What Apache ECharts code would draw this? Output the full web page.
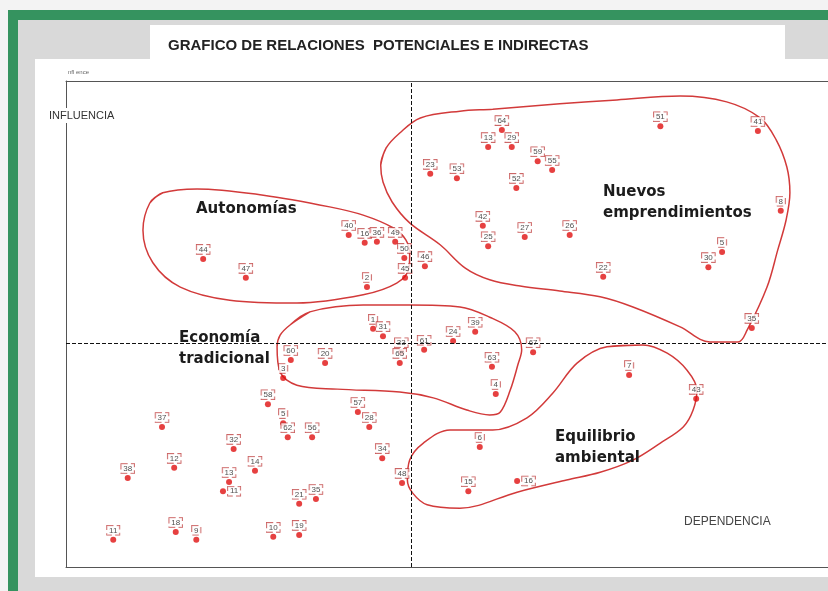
<!DOCTYPE html>
<html>
<head>
<meta charset="utf-8">
<script src="https://cdn.jsdelivr.net/npm/echarts@6/dist/echarts.min.js"></script>
<style>
html, body { margin: 0; padding: 0; width: 828px; height: 591px; overflow: hidden; background: #f3f3f3; }
.verde { position: absolute; left: 8px; top: 10px; right: 0; bottom: 0; background: #35935f; }
.gris { position: absolute; left: 18px; top: 20px; right: 0; bottom: 0; background: #d9d9d9; }
.caja-titulo { position: absolute; left: 150px; top: 25px; width: 635px; height: 34px; background: #fff; }
.caja-grafico { position: absolute; left: 35px; top: 59px; right: 0; height: 518px; background: #fff; }
#chart { position: absolute; left: 0; top: 0; width: 828px; height: 591px; }
</style>
</head>
<body>
<div class="verde"></div>
<div class="gris"></div>
<div class="caja-titulo"></div>
<div class="caja-grafico"></div>
<div id="chart"></div>
<script>
// variables (etiqueta, dependencia, influencia)
var etiquetas = ["64", "13", "29", "23", "53", "59", "55", "52", "42", "25", "27", "26", "46", "22",
  "51", "41", "8", "5", "30", "35",
  "44", "47", "40", "16", "36", "49", "50", "45", "2",
  "1", "31", "33", "65", "61", "24", "39", "67", "60", "20", "3", "63", "4",
  "7", "43", "6", "15", "16", "48",
  "58", "5", "62", "56", "57", "28", "34", "37", "32", "12", "38", "14", "13", "11", "21", "35",
  "11", "18", "9", "10", "19"];
var dependencia = [57.2, 55.4, 58.5, 47.8, 51.3, 61.9, 63.8, 59.1, 54.7, 55.4, 60.2, 66.1, 47.1, 70.5,
  78.0, 90.8, 93.8, 86.1, 84.3, 90.0,
  18.0, 23.6, 37.1, 39.2, 40.8, 43.2, 44.4, 44.5, 39.5,
  40.3, 41.6, 44.0, 43.8, 47.0, 50.8, 53.7, 61.3, 29.5, 34.0, 28.5, 55.9, 56.4,
  73.9, 82.7, 54.3, 52.8, 59.2, 44.1,
  26.5, 28.5, 29.1, 32.3, 38.3, 39.8, 41.5, 12.6, 22.0, 14.2, 8.1, 24.8, 21.4, 20.6, 30.6, 32.8,
  6.2, 14.4, 17.1, 27.2, 30.6];
var influencia = [89.9, 86.4, 86.4, 80.9, 80.0, 83.5, 81.7, 78.0, 70.2, 66.0, 67.9, 68.3, 61.9, 59.7,
  90.7, 89.7, 73.3, 64.8, 61.7, 49.2,
  63.4, 59.5, 68.3, 66.7, 66.9, 66.9, 63.6, 59.5, 57.6,
  49.0, 47.5, 44.2, 42.0, 44.7, 46.5, 48.4, 44.2, 42.6, 42.0, 38.9, 41.2, 35.6,
  39.5, 34.6, 24.7, 15.6, 17.7, 17.3,
  33.5, 29.6, 26.7, 26.7, 31.9, 28.8, 22.4, 28.8, 24.3, 20.4, 18.3, 19.8, 17.5, 15.6, 13.0, 14.0,
  5.6, 7.2, 5.6, 6.2, 6.6];
// etiquetas que van a la derecha del punto
var etiquetaDerecha = [46, 61];

// contornos de los grupos
var autonomias = [[11.0, 74.9], [12.7, 77.0], [17.2, 77.8], [25.9, 76.5], [34.6, 74.1], [39.0, 72.4],
  [42.9, 69.8], [44.6, 67.3], [45.1, 64.2], [45.0, 61.5], [43.4, 58.4], [39.0, 56.0], [30.3, 54.3],
  [21.5, 54.9], [15.0, 57.6], [11.4, 62.6], [10.1, 69.3]];
var nuevos = [[41.3, 82.7], [42.0, 86.2], [43.8, 89.3], [46.5, 92.4], [51.7, 93.8], [56.0, 94.2],
  [64.8, 95.3], [72.3, 96.1], [80.6, 96.9], [86.7, 95.7], [91.1, 92.4], [93.2, 87.9], [94.6, 82.3],
  [95.0, 77.0], [94.5, 71.4], [93.4, 65.2], [92.0, 57.6], [89.4, 48.8], [88.2, 46.3], [84.5, 46.3],
  [80.6, 49.4], [74.4, 53.5], [70.1, 55.6], [64.8, 56.8], [59.6, 57.8], [55.6, 59.1], [52.4, 61.5],
  [49.1, 66.3], [45.1, 70.8], [42.8, 75.1], [41.6, 79.2]];
var economia = [[29.4, 49.8], [32.0, 52.5], [39.0, 53.9], [45.1, 53.9], [51.7, 53.5], [55.6, 51.4],
  [58.9, 48.4], [59.8, 44.7], [59.3, 41.6], [58.3, 36.4], [57.0, 31.9], [55.6, 31.3], [52.6, 32.3],
  [48.2, 34.8], [43.8, 36.0], [35.6, 36.6], [30.3, 37.4], [28.1, 40.1], [27.7, 45.3], [28.1, 47.7]];
var equilibrio = [[71.0, 45.3], [75.7, 45.7], [78.9, 44.0], [81.5, 40.5], [82.8, 36.4], [82.3, 32.3],
  [81.0, 28.8], [78.0, 25.5], [74.4, 22.0], [70.1, 19.5], [65.7, 17.9], [59.2, 15.4], [51.7, 12.1],
  [47.4, 12.8], [45.5, 15.2], [44.8, 17.9], [45.1, 22.0], [46.9, 25.5], [50.4, 28.2], [56.0, 28.2],
  [60.5, 30.7], [63.9, 35.8], [67.1, 42.0]];
// cortes de los cuadrantes
var corteDependencia = 45.3;
var corteInfluencia = 46.1;

var chart = echarts.init(document.getElementById("chart"));

var puntos = [];
for (var i = 0; i < etiquetas.length; i++) {
  var item = { value: [dependencia[i], influencia[i]], name: etiquetas[i] };
  if (etiquetaDerecha.indexOf(i) >= 0) {
    item.label = { position: "right" };
  }
  puntos.push(item);
}

function contorno(nombre, pts) {
  return {
    name: nombre,
    type: "line",
    data: pts.concat([pts[0], pts[1]]),
    smooth: 0.35,
    symbol: "none",
    silent: true,
    z: 1,
    lineStyle: { color: "#d23a3a", width: 1.5 }
  };
}

var fuenteGrupo = { fontSize: 15, fontWeight: "bold", fontFamily: "DejaVu Sans", fill: "#1c1c1c", lineHeight: 21 };
var sinMarcas = { axisTick: { show: false }, axisLabel: { show: false }, splitLine: { show: false } };
var lineaEje = { show: true, lineStyle: { color: "#555", width: 1 } };

chart.setOption({
  backgroundColor: "transparent",
  animation: false,
  title: {
    text: "GRAFICO DE RELACIONES  POTENCIALES E INDIRECTAS",
    left: 163,
    top: 33,
    textStyle: { fontSize: 15, fontWeight: "bold", color: "#222", fontFamily: "Liberation Sans Narrow, Arial Narrow, Liberation Sans" }
  },
  grid: { left: 66, right: 0, top: 81, bottom: 24 },
  xAxis: [
    Object.assign({ type: "value", min: 0, max: 100, position: "bottom", axisLine: lineaEje }, sinMarcas),
    Object.assign({ type: "value", min: 0, max: 100, position: "top", axisLine: lineaEje }, sinMarcas)
  ],
  yAxis: Object.assign({ type: "value", min: 0, max: 100, axisLine: lineaEje }, sinMarcas),
  series: [
    contorno("Autonomías", autonomias),
    contorno("Nuevos emprendimientos", nuevos),
    contorno("Economía tradicional", economia),
    contorno("Equilibrio ambiental", equilibrio),
    {
      type: "scatter",
      data: puntos,
      symbolSize: 6,
      z: 3,
      itemStyle: { color: "#e01010" },
      label: {
        show: true,
        position: "top",
        distance: 2,
        formatter: "{b}",
        fontSize: 8,
        color: "#222",
        fontFamily: "Liberation Sans",
        backgroundColor: "#fff",
        borderColor: "#b33",
        borderType: "dashed",
        borderWidth: 0.8,
        padding: [1, 2, 0, 2]
      },
      markLine: {
        silent: true,
        symbol: "none",
        label: { show: false },
        lineStyle: { color: "#111", type: "dashed", width: 1 },
        data: [{ xAxis: corteDependencia }, { yAxis: corteInfluencia }]
      }
    }
  ],
  graphic: [
    { type: "text", left: 68, top: 69, z: 100, style: { text: "nfl ence", fontSize: 6, fill: "#666" } },
    { type: "text", left: 47, top: 108, z: 100, style: { text: "INFLUENCIA", fontSize: 11, fontFamily: "Liberation Sans", fill: "#333", backgroundColor: "#fff", padding: [2, 2] } },
    { type: "text", left: 684, top: 516, z: 100, style: { text: "DEPENDENCIA", fontSize: 12, fontFamily: "Liberation Sans", fill: "#444" } },
    { type: "text", left: 196, top: 199, z: 100, style: Object.assign({ text: "Autonomías" }, fuenteGrupo) },
    { type: "text", left: 603, top: 182, z: 100, style: Object.assign({ text: "Nuevos\nemprendimientos" }, fuenteGrupo) },
    { type: "text", left: 179, top: 328, z: 100, style: Object.assign({ text: "Economía\ntradicional" }, fuenteGrupo) },
    { type: "text", left: 555, top: 427, z: 100, style: Object.assign({ text: "Equilibrio\nambiental" }, fuenteGrupo) }
  ]
});
</script>
</body>
</html>
